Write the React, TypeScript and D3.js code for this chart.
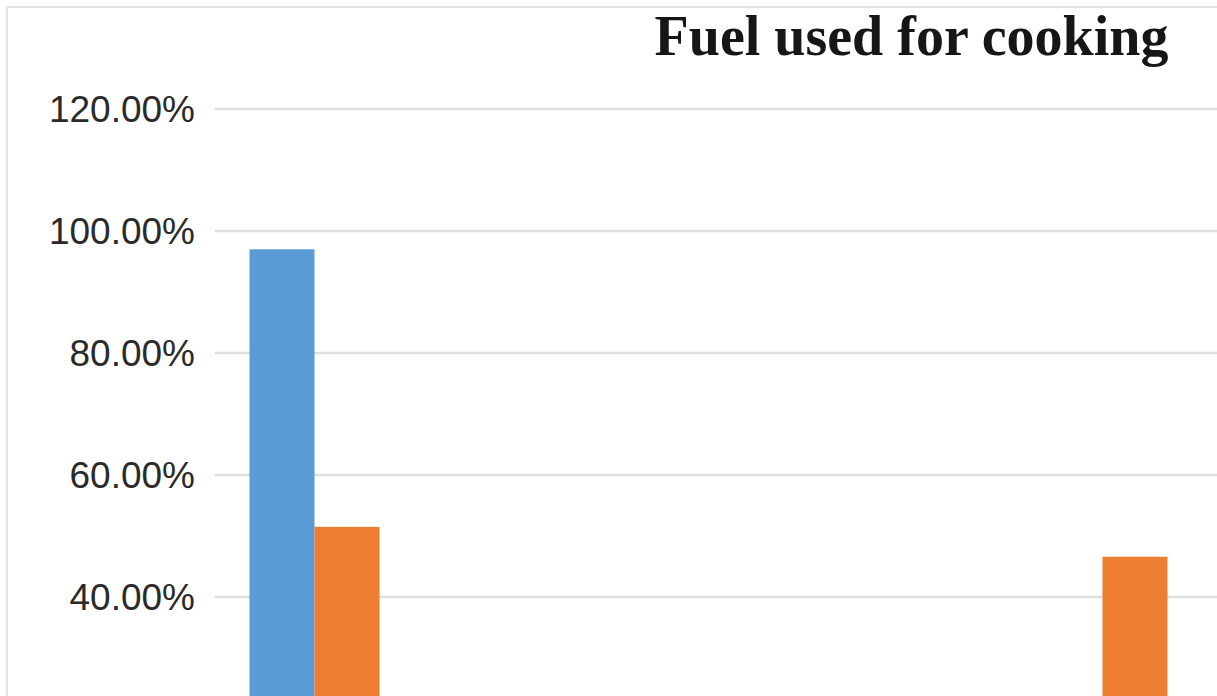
import React from "react";
import * as d3 from "d3";

const categories = ["LPG", "Kerosene", "Firewood", "Cow dung", "Electricity", "Others"];
const seriesNames = ["Series A", "Series B"];
const seriesA = [0.97, 0.02, 0.02, 0.01, 0.03, 0.01];
const seriesB = [0.515, 0.05, 0.04, 0.03, 0.466, 0.02];
const yTicks = [0, 0.2, 0.4, 0.6, 0.8, 1.0, 1.2];
const colors = ["#5b9bd5", "#ed7d31"];
const title = "Fuel used for cooking";

const W = 1217;
const H = 696;

export default function App() {
  const x0 = d3
    .scaleBand<string>()
    .domain(categories)
    .range([216, 216 + 197 * categories.length])
    .paddingInner(0.34)
    .paddingOuter(0.17);
  const x1 = d3.scaleBand<string>().domain(seriesNames).range([0, x0.bandwidth()]);
  const y = d3.scaleLinear().domain([0, 1.2]).range([841, 109]);
  const fmt = d3.format(".2%");
  const values = [seriesA, seriesB];

  return (
    <svg
      width={W}
      height={H}
      style={{ position: "absolute", left: 0, top: 0, background: "#fff" }}
    >
      <rect x={0} y={0} width={W} height={H} fill="#fff" />
      <rect x={7} y={7} width={W + 20} height={H + 20} fill="none" stroke="#e4e4e4" strokeWidth={2} />
      <text
        x={911.5}
        y={55}
        textAnchor="middle"
        fontFamily="'Liberation Serif', 'DejaVu Serif', serif"
        fontWeight="bold"
        fontSize={56}
        fill="#161616"
      >
        {title}
      </text>
      {yTicks.map((t) => (
        <g key={t}>
          <line x1={215} x2={W} y1={y(t)} y2={y(t)} stroke="#dedede" strokeWidth={2.5} />
          {y(t) + 20 < H && (
            <text
              x={195}
              y={y(t)}
              dy="0.36em"
              textAnchor="end"
              fontFamily="'Liberation Sans', Arial, sans-serif"
              fontSize={37}
              fill="#2a2a2a"
            >
              {fmt(t)}
            </text>
          )}
        </g>
      ))}
      {categories.map((c, i) => (
        <g key={c} transform={`translate(${x0(c)},0)`}>
          {seriesNames.map((s, j) => (
            <rect
              key={s}
              x={x1(s)}
              y={y(values[j][i])}
              width={x1.bandwidth()}
              height={y(0) - y(values[j][i])}
              fill={colors[j]}
            />
          ))}
        </g>
      ))}
    </svg>
  );
}
